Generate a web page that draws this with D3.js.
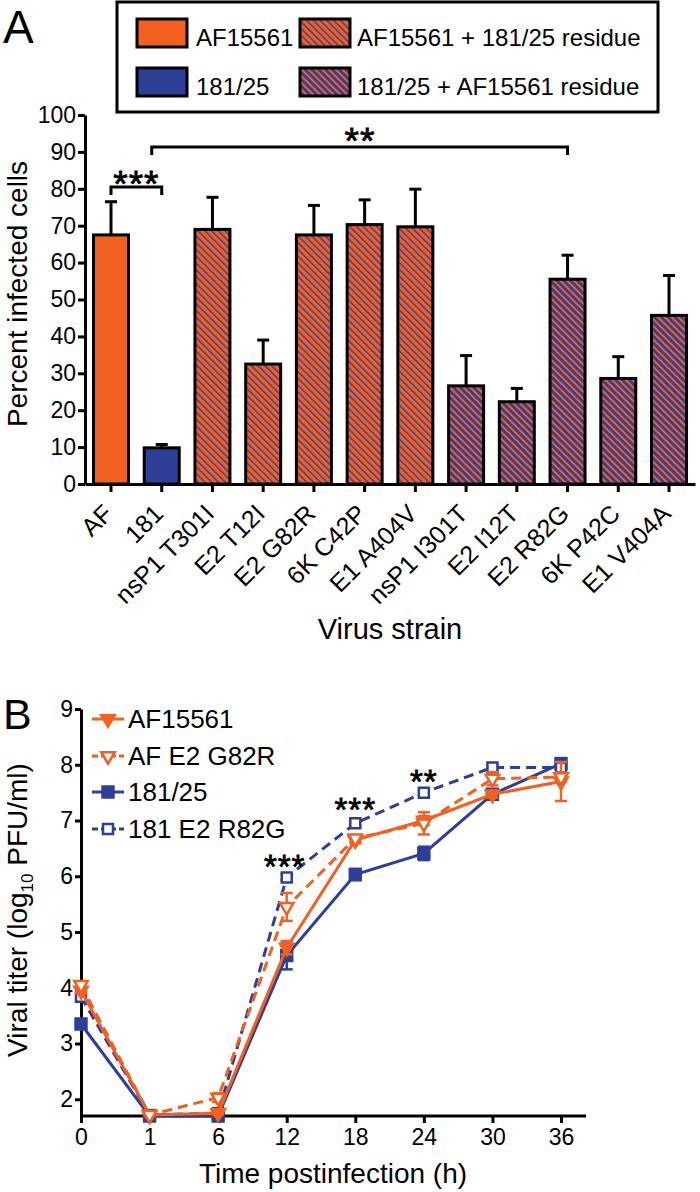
<!DOCTYPE html>
<html><head><meta charset="utf-8">
<script src="https://cdn.jsdelivr.net/npm/d3@7"></script>
<style>body{margin:0;background:#fff;} text{font-family:"Liberation Sans",Arial,Helvetica,sans-serif;fill:#000;}</style>
</head><body>
<script>
// ---------- Panel A data ----------
const categories = ["AF","181","nsP1 T301I","E2 T12I","E2 G82R","6K C42P","E1 A404V","nsP1 I301T","E2 I12T","E2 R82G","6K P42C","E1 V404A"];
const percentInfected = [67.5, 9.8, 69.0, 32.5, 67.5, 70.3, 69.7, 26.6, 22.3, 55.5, 28.6, 45.7];
const percentError = [9.0, 0.9, 8.7, 6.5, 8.0, 6.7, 10.2, 8.2, 3.6, 6.5, 5.9, 10.8];
const barGroups = ["AF15561","181/25","AF15561 + 181/25 residue","AF15561 + 181/25 residue","AF15561 + 181/25 residue","AF15561 + 181/25 residue","AF15561 + 181/25 residue","181/25 + AF15561 residue","181/25 + AF15561 residue","181/25 + AF15561 residue","181/25 + AF15561 residue","181/25 + AF15561 residue"];
const legendLabelsA = ["AF15561","AF15561 + 181/25 residue","181/25","181/25 + AF15561 residue"];
const yTicksA = [0,10,20,30,40,50,60,70,80,90,100];

// ---------- Panel B data ----------
const timepoints = [0,1,6,12,18,24,30,36];
const seriesNames = ["AF15561","AF E2 G82R","181/25","181 E2 R82G"];
const titerAF15561 = [3.95,1.72,1.75,4.72,6.65,7.00,7.47,7.70];
const titerAFE2G82R = [4.05,1.72,2.03,5.45,6.68,6.95,7.75,7.78];
const titer18125 = [3.35,1.70,1.70,4.58,6.03,6.41,7.47,8.02];
const titer181E2R82G = [3.84,1.72,1.75,5.98,6.95,7.50,7.95,7.95];
const errAF15561 = [0.05,0.02,0.03,0.12,0.06,0.08,0.06,0.35];
const errAFE2G82R = [0.05,0.02,0.08,0.25,0.06,0.20,0.12,0.08];
const err18125 = [0.05,0.02,0.02,0.25,0.10,0.12,0.06,0.10];
const err181E2R82G = [0.06,0.02,0.02,0.05,0.05,0.05,0.05,0.05];
const yTicksB = [2,3,4,5,6,7,8,9];

const ORANGE = "#f26122", BLUE = "#2e3f97";
const FONT = '"Liberation Sans",Arial,Helvetica,sans-serif';

const svg = d3.select("body").append("svg").attr("width",700).attr("height",1192);
const defs = svg.append("defs");
function hatch(id, bg, fg, lw){
  const p = defs.append("pattern").attr("id",id).attr("patternUnits","userSpaceOnUse")
    .attr("width",4.8).attr("height",4.8).attr("patternTransform","rotate(-45)");
  p.append("rect").attr("width",4.8).attr("height",4.8).attr("fill",bg);
  p.append("rect").attr("x",0).attr("width",lw).attr("height",4.8).attr("fill",fg);
}
hatch("hO", ORANGE, BLUE, 1.4);
hatch("hB", BLUE, ORANGE, 2.0);
const fillOf = {"AF15561":ORANGE,"181/25":BLUE,"AF15561 + 181/25 residue":"url(#hO)","181/25 + AF15561 residue":"url(#hB)"};

function stars(x, y, s, fs){
  svg.append("text").attr("x",x).attr("y",y).attr("text-anchor","middle").attr("font-size",fs)
    .attr("stroke","#000").attr("stroke-width",0.8).attr("letter-spacing",1).text(s);
}

// ================= Panel A =================
svg.append("text").attr("x",3).attr("y",43).attr("font-size",46).text("A");

// legend
svg.append("rect").attr("x",117).attr("y",2).attr("width",541).attr("height",110)
  .attr("fill","#fff").attr("stroke","#000").attr("stroke-width",3);
const legPos = [{sx:137,sy:19,tx:196,ty:46},{sx:300,sy:19,tx:357,ty:46},{sx:137,sy:68,tx:196,ty:95},{sx:300,sy:68,tx:357,ty:95}];
legendLabelsA.forEach((lab,i)=>{
  const p = legPos[i];
  svg.append("rect").attr("x",p.sx).attr("y",p.sy).attr("width",50).attr("height",28)
    .attr("fill",fillOf[lab]).attr("stroke","#000").attr("stroke-width",3);
  svg.append("text").attr("x",p.tx).attr("y",p.ty).attr("font-size",24).text(lab);
});

const xA = d3.scaleBand().domain(categories).range([85,695]).paddingInner(0.31).paddingOuter(0.1675);
const yA = d3.scaleLinear().domain([0,100]).range([484,115]);

// error bars A
const gErr = svg.append("g");
categories.forEach((c,i)=>{
  const cx = xA(c)+xA.bandwidth()/2;
  gErr.append("line").attr("x1",cx).attr("x2",cx).attr("y1",yA(percentInfected[i])).attr("y2",yA(percentInfected[i]+percentError[i]))
    .attr("stroke","#000").attr("stroke-width",3);
  gErr.append("line").attr("x1",cx-6).attr("x2",cx+6).attr("y1",yA(percentInfected[i]+percentError[i])).attr("y2",yA(percentInfected[i]+percentError[i]))
    .attr("stroke","#000").attr("stroke-width",3);
});
svg.append("g").selectAll("rect").data(categories).join("rect")
  .attr("x",d=>xA(d)).attr("width",xA.bandwidth())
  .attr("y",(d,i)=>yA(percentInfected[i])).attr("height",(d,i)=>yA(0)-yA(percentInfected[i]))
  .attr("fill",(d,i)=>fillOf[barGroups[i]]).attr("stroke","#000").attr("stroke-width",3);

const axYA = svg.append("g").attr("transform","translate(85,0)")
  .call(d3.axisLeft(yA).tickValues(yTicksA).tickSize(7).tickPadding(2).tickSizeOuter(0));
const axXA = svg.append("g").attr("transform","translate(0,484)")
  .call(d3.axisBottom(xA).tickSize(8).tickSizeOuter(0));
axXA.selectAll(".tick text").attr("x",0).attr("y",0).attr("dy","0.35em").attr("text-anchor","end")
  .attr("transform","translate(-3,25) rotate(-45)");
[axYA, axXA].forEach(g=>{
  g.selectAll("path,line").attr("stroke","#000").attr("stroke-width",3);
  g.selectAll("text").attr("font-family",FONT).attr("fill","#000");
});
axYA.selectAll("text").attr("font-size",23);
axXA.selectAll("text").attr("font-size",25);

svg.append("text").attr("transform","translate(27,294) rotate(-90)").attr("text-anchor","middle").attr("font-size",28).text("Percent infected cells");
svg.append("text").attr("x",390).attr("y",639).attr("text-anchor","middle").attr("font-size",29).text("Virus strain");

// significance A
const cAF = xA("AF")+xA.bandwidth()/2, c181 = xA("181")+xA.bandwidth()/2, cR = xA("E2 R82G")+xA.bandwidth()/2;
svg.append("path").attr("d",`M${cAF},195V187H${c181}V195`).attr("fill","none").attr("stroke","#000").attr("stroke-width",3);
svg.append("path").attr("d",`M${c181-10},155V147H${cR}V155`).attr("fill","none").attr("stroke","#000").attr("stroke-width",3);
stars((cAF+c181)/2, 197, "***", 37);
stars(360, 154, "**", 37);

// ================= Panel B =================
svg.append("text").attr("x",3).attr("y",729).attr("font-size",43).text("B");
const xB = d3.scalePoint().domain(timepoints).range([81,561]);
const yB = d3.scaleLinear().domain([1.7,9]).range([1116,709]);

const axYB = svg.append("g").attr("transform","translate(81,0)")
  .call(d3.axisLeft(yB).tickValues(yTicksB).tickSize(6).tickPadding(2).tickSizeOuter(0));
const axXB = svg.append("g").attr("transform","translate(0,1116)")
  .call(d3.axisBottom(xB).tickSize(7).tickPadding(6).tickSizeOuter(0));
axXB.select(".domain").attr("d","M81,0H586");
[axYB, axXB].forEach(g=>{
  g.selectAll("path,line").attr("stroke","#000").attr("stroke-width",3);
  g.selectAll("text").attr("font-family",FONT).attr("fill","#000").attr("font-size",23);
});

const seriesData = [titerAF15561, titerAFE2G82R, titer18125, titer181E2R82G];
const seriesErr = [errAF15561, errAFE2G82R, err18125, err181E2R82G];
const seriesColor = [ORANGE, ORANGE, BLUE, BLUE];
const seriesDash = [null, "10,6", null, "10,6"];
const seriesSym = ["tri","tri","sq","sq"];
const seriesFilled = [true,false,true,false];

function marker(g, type, filled, color, x, y){
  if(type==="tri"){
    g.append("path").attr("d",d3.symbol(d3.symbolTriangle, 78)())
      .attr("transform",`translate(${x},${y}) rotate(180)`)
      .attr("fill",filled?color:"#fff").attr("stroke",color).attr("stroke-width",2.5);
  } else {
    g.append("path").attr("d",d3.symbol(d3.symbolSquare, filled?120:100)())
      .attr("transform",`translate(${x},${y})`)
      .attr("fill",filled?color:"#fff").attr("stroke",color).attr("stroke-width",2.5);
  }
}

const line = d3.line().x((d,i)=>xB(timepoints[i])).y(d=>yB(d));
const drawOrder = [2,3,0,1];
drawOrder.forEach(s=>{
  const g = svg.append("g");
  g.append("path").attr("d",line(seriesData[s])).attr("fill","none").attr("stroke",seriesColor[s])
    .attr("stroke-width",3).attr("stroke-dasharray",seriesDash[s]);
  seriesData[s].forEach((v,i)=>{
    const x = xB(timepoints[i]), e = seriesErr[s][i];
    g.append("line").attr("x1",x).attr("x2",x).attr("y1",yB(v-e)).attr("y2",yB(v+e)).attr("stroke",seriesColor[s]).attr("stroke-width",2.5);
    [v-e,v+e].forEach(w=>g.append("line").attr("x1",x-6).attr("x2",x+6).attr("y1",yB(w)).attr("y2",yB(w)).attr("stroke",seriesColor[s]).attr("stroke-width",2.5));
    marker(g, seriesSym[s], seriesFilled[s], seriesColor[s], x, yB(v));
  });
});

// legend B
const legYs = [719,756,792,829];
seriesNames.forEach((n,s)=>{
  const y = legYs[s];
  svg.append("line").attr("x1",92).attr("x2",124).attr("y1",y).attr("y2",y).attr("stroke",seriesColor[s])
    .attr("stroke-width",3).attr("stroke-dasharray",seriesDash[s]?"6,3":null);
  marker(svg, seriesSym[s], seriesFilled[s], seriesColor[s], 108, y);
  svg.append("text").attr("x",128).attr("y",y+9).attr("font-size",26).text(n);
});

// significance B
stars(xB(12)-2, 878, "***", 33);
stars(xB(18), 821, "***", 33);
stars(xB(24), 793, "**", 33);

// axis titles B
const yt = svg.append("text").attr("transform","translate(27,910) rotate(-90)").attr("text-anchor","middle").attr("font-size",28);
yt.append("tspan").text("Viral titer (log");
yt.append("tspan").attr("font-size",17).attr("dy",6).text("10");
yt.append("tspan").attr("dy",-6).text(" PFU/ml)");
svg.append("text").attr("x",333).attr("y",1183).attr("text-anchor","middle").attr("font-size",28).text("Time postinfection (h)");
</script>
</body></html>
